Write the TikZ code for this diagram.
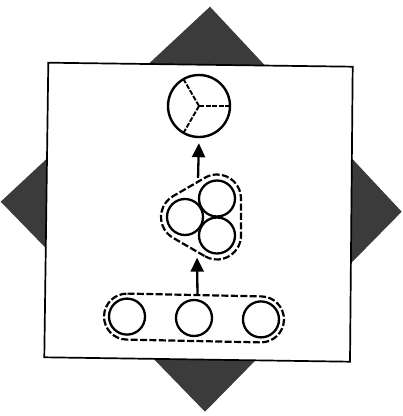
\documentclass[tikz,border=0pt]{standalone}
\usetikzlibrary{arrows.meta,calc}
\begin{document}
\begin{tikzpicture}[x=1pt,y=1pt,
  ball/.style={circle,draw,line width=2.3pt,minimum size=36pt,inner sep=0pt},
  dashline/.style={line width=2.2pt,dash pattern=on 7pt off 2.4pt},
  spoke/.style={line width=1.9pt,dash pattern=on 5pt off 1.6pt},
  arr/.style={line width=2.3pt,-{Triangle[length=14pt,width=13pt]}}]
\useasboundingbox (0,0) rectangle (403,416);
% dark diamond behind
\fill[black!77] (210,409.3) -- (401.7,204.3) -- (205,4.3) -- (0.7,214.3) -- cycle;
% white square frame
\draw[fill=white,line width=1.7pt] (48.3,353.3) -- (352.7,349.3) -- (350,54.3) -- (44.3,58.7) -- cycle;
% top circle with spokes
\node[circle,draw,line width=2.4pt,minimum size=62pt,inner sep=0pt] (top) at (199,310) {};
\draw[spoke] (top.center) -- ($(top.center)+(0:31pt)$);
\draw[spoke] (top.center) -- ($(top.center)+(120:31pt)$);
\draw[spoke] (top.center) -- ($(top.center)+(240:31pt)$);
% middle group
\node[ball] (mT) at (217,217.5) {};
\node[ball] (mB) at (217,180.5) {};
\node[ball] (mL) at (185,199) {};
\draw[dashline] ($(mB.center)+(240:24pt)$) arc[start angle=240,end angle=360,radius=24pt]
  -- ($(mT.center)+(0:24pt)$) arc[start angle=0,end angle=120,radius=24pt]
  -- ($(mL.center)+(120:24pt)$) arc[start angle=120,end angle=240,radius=24pt] -- cycle;
\coordinate (hT1) at ($(mL.center)+(120:24pt)$);
\coordinate (hT2) at ($(mT.center)+(120:24pt)$);
\coordinate (hTop) at ($(hT1)!0.78!(hT2)$);
\coordinate (hB1) at ($(mL.center)+(240:24pt)$);
\coordinate (hB2) at ($(mB.center)+(240:24pt)$);
\coordinate (hBot) at ($(hB1)!0.75!(hB2)$);
% bottom group
\begin{scope}[shift={(194,98)},rotate=-1.2]
  \node[ball] (b1) at (-67,0) {};
  \node[ball] (b2) at (0,0) {};
  \node[ball] (b3) at (67,0) {};
  \coordinate (sA) at (3,23);
  \draw[dashline] (-67,23) -- (67,23) arc[start angle=90,end angle=-90,radius=23pt]
    -- (-67,-23) arc[start angle=270,end angle=90,radius=23pt] -- cycle;
\end{scope}
% arrows
\draw[arr,shorten <=4pt,shorten >=5pt] (hTop) -- (top.south);
\draw[arr,shorten >=6pt] (sA) -- (hBot);
\end{tikzpicture}
\end{document}
